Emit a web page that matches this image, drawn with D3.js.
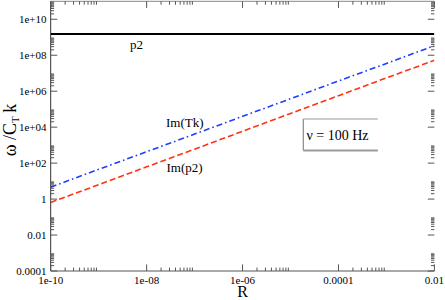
<!DOCTYPE html>
<html><head><meta charset="utf-8">
<script src="https://cdn.jsdelivr.net/npm/d3@7"></script>
<style>
html,body{margin:0;padding:0;background:#fff;}
svg{display:block;font-family:"Liberation Serif","Times New Roman",serif;}
</style></head>
<body>
<svg id="c" width="445" height="300"></svg>
<script>
// ---- data ----
const R = [1e-10, 1e-9, 1e-8, 1e-7, 1e-6, 1e-5, 1e-4, 1e-3, 1e-2];
const p2 = [1.5e9, 1.5e9, 1.5e9, 1.5e9, 1.5e9, 1.5e9, 1.5e9, 1.5e9, 1.5e9];
const imTk = [4.6, 45, 430, 4.1e3, 4.0e4, 3.8e5, 3.7e6, 3.5e7, 3.4e8];
const imP2 = [0.65, 6.3, 62, 600, 5.9e3, 5.8e4, 5.6e5, 5.5e6, 5.2e7];
const xTickLabels = ["1e-10", "1e-08", "1e-06", "0.0001", "0.01"];
const yTickLabels = ["0.0001", "0.01", "1", "1e+02", "1e+04", "1e+06", "1e+08", "1e+10"];
const xMajor = [1e-10, 1e-8, 1e-6, 1e-4, 1e-2];
const yMajor = [1e-4, 1e-2, 1, 1e2, 1e4, 1e6, 1e8, 1e10];

const svg = d3.select("#c");
const L = 50.7, Rt = 434.4, T = 1.3, B = 271;
const x = d3.scaleLog().domain([1e-10, 1e-2]).range([L, Rt]);
const y = d3.scaleLog().domain([1e-4, 1e11]).range([B, T]);

// minor tick values: 2..9 x 10^(even exponent)
function minors(majors, maxv) {
  const out = [];
  majors.forEach(m => { for (let k = 2; k <= 9; k++) { const v = m * k; if (v <= maxv) out.push(v); } });
  return out;
}
const xMinor = minors(xMajor.slice(0, -1), 1e-2);
const yMinor = minors(yMajor, 1e11);

const g = svg.append("g");
// frame lines
g.append("line").attr("x1", L).attr("x2", L).attr("y1", T).attr("y2", B).attr("stroke", "#333").attr("stroke-width", 1);
g.append("line").attr("x1", L).attr("x2", Rt).attr("y1", B).attr("y2", B).attr("stroke", "#555").attr("stroke-width", 1);
g.append("line").attr("x1", L).attr("x2", Rt).attr("y1", T).attr("y2", T).attr("stroke", "#888").attr("stroke-width", 1);

const tickCol = "#555";
// bottom & top ticks
xMajor.forEach(v => {
  g.append("line").attr("x1", x(v)).attr("x2", x(v)).attr("y1", B).attr("y2", B - 6.6).attr("stroke", tickCol);
  g.append("line").attr("x1", x(v)).attr("x2", x(v)).attr("y1", T).attr("y2", T + 6.6).attr("stroke", tickCol);
});
xMinor.forEach(v => {
  g.append("line").attr("x1", x(v)).attr("x2", x(v)).attr("y1", B).attr("y2", B - 3.4).attr("stroke", tickCol);
  g.append("line").attr("x1", x(v)).attr("x2", x(v)).attr("y1", T).attr("y2", T + 3.4).attr("stroke", tickCol);
});
// left & right ticks
yMajor.forEach(v => {
  g.append("line").attr("x1", L).attr("x2", L + 6.6).attr("y1", y(v)).attr("y2", y(v)).attr("stroke", tickCol);
  g.append("line").attr("x1", Rt).attr("x2", Rt - 6.6).attr("y1", y(v)).attr("y2", y(v)).attr("stroke", tickCol);
});
yMinor.forEach(v => {
  g.append("line").attr("x1", L).attr("x2", L + 3.4).attr("y1", y(v)).attr("y2", y(v)).attr("stroke", tickCol);
  g.append("line").attr("x1", Rt).attr("x2", Rt - 3.4).attr("y1", y(v)).attr("y2", y(v)).attr("stroke", tickCol);
});

// tick labels
xMajor.forEach((v, i) => {
  g.append("text").attr("x", x(v)).attr("y", 283.5).attr("text-anchor", "middle")
   .attr("font-size", 11).attr("fill", "#000").text(xTickLabels[i]);
});
yMajor.forEach((v, i) => {
  g.append("text").attr("x", 46.5).attr("y", y(v) + 3.8).attr("text-anchor", "end")
   .attr("font-size", 11).attr("fill", "#000").text(yTickLabels[i]);
});

// axis titles
g.append("text").attr("x", (L + Rt) / 2).attr("y", 297).attr("text-anchor", "middle")
 .attr("font-size", 16).text("R");
const yt = g.append("text").attr("transform", "translate(15.5,130) rotate(-90)")
 .attr("text-anchor", "middle").attr("font-size", 18);
yt.append("tspan").text("ω /C");
yt.append("tspan").attr("font-size", 11).attr("dy", 3).text("T");
yt.append("tspan").attr("dy", -3).text("\u2009k");

// series
const line = d3.line().x((d, i) => x(R[i])).y(d => y(d));
svg.append("clipPath").attr("id", "pc").append("rect")
 .attr("x", L).attr("y", T).attr("width", Rt - L).attr("height", B - T);
const lg = svg.append("g").attr("clip-path", "url(#pc)");
lg.append("path").datum(p2).attr("d", line).attr("fill", "none").attr("stroke", "#000").attr("stroke-width", 2);
lg.append("path").datum(imTk).attr("d", line).attr("fill", "none").attr("stroke", "#1f3fff")
 .attr("stroke-width", 1.6).attr("stroke-dasharray", "6,3,1.6,3");
lg.append("path").datum(imP2).attr("d", line).attr("fill", "none").attr("stroke", "#ff3311")
 .attr("stroke-width", 1.6).attr("stroke-dasharray", "6,3");

// annotations
g.append("text").attr("x", 130).attr("y", 49).attr("font-size", 13).text("p2");
g.append("text").attr("x", 166).attr("y", 127).attr("font-size", 13).text("Im(Tk)");
g.append("text").attr("x", 166.5).attr("y", 172).attr("font-size", 13).text("Im(p2)");

// legend-like box
const bx = 303.3, by = 119, bw = 74.5, bh = 31.5;
g.append("line").attr("x1", bx).attr("x2", bx + bw).attr("y1", by).attr("y2", by).attr("stroke", "#999").attr("stroke-width", 1);
g.append("line").attr("x1", bx).attr("x2", bx).attr("y1", by).attr("y2", by + bh).attr("stroke", "#888").attr("stroke-width", 1.2);
g.append("line").attr("x1", bx).attr("x2", bx + bw).attr("y1", by + bh).attr("y2", by + bh).attr("stroke", "#999").attr("stroke-width", 1.8);
g.append("text").attr("x", 306.5).attr("y", 139.5).attr("font-size", 14).text("ν = 100 Hz");
</script>
</body></html>
